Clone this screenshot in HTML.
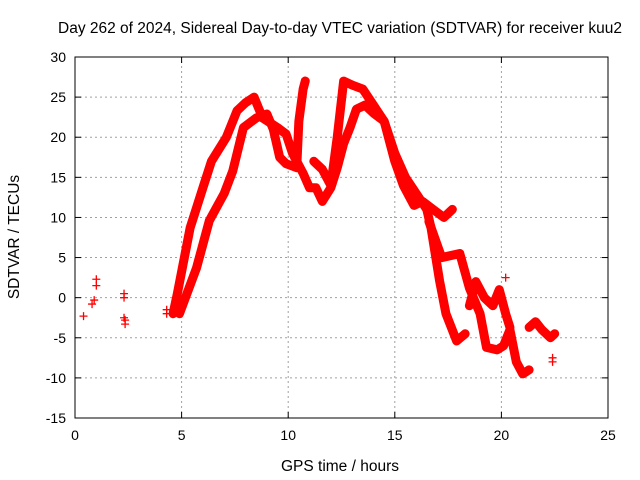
<!DOCTYPE html>
<html><head><meta charset="utf-8"><style>
html,body{margin:0;padding:0;background:#fff;}
svg{display:block;font-family:"Liberation Sans",sans-serif;}
</style></head><body>
<svg id="chart" width="640" height="480" xmlns="http://www.w3.org/2000/svg">
<text x="340" y="33" font-size="15.5" text-anchor="middle">Day 262 of 2024, Sidereal Day-to-day VTEC variation (SDTVAR) for receiver kuu2</text>
<text x="340" y="471" font-size="15.5" text-anchor="middle">GPS time / hours</text>
<text transform="translate(19,237) rotate(-90)" font-size="15.5" text-anchor="middle">SDTVAR / TECUs</text>
<g id="grid"></g><g id="marks"></g><g id="axes"></g>
</svg>
<script>
const xTicks=[0,5,10,15,20,25];
const yTicks=[-15,-10,-5,0,5,10,15,20,25,30];
const isoT=[0.4,0.8,0.9,1.0,1.0,2.3,2.3,2.3,2.35,2.35,4.3,4.3,20.2,22.4,22.4];
const isoV=[-2.3,-0.8,-0.3,1.5,2.3,0,0.5,-2.5,-3.3,-2.8,-2,-1.5,2.5,-7.5,-8];
const aT=[4.6,4.8,5.4,6.0,6.4,7.1,7.6,8.0,8.4,8.8,9.5,9.9,10.2,10.7,11.0,11.3,11.6,12.0,12.3,12.6,12.9,13.2,13.6,14.0,14.5,15.0,15.4,15.9,16.3,16.8,17.3,17.7];
const aV=[-2,0.5,8.7,13.7,17,20,23.3,24.3,25,22.4,21.2,20.4,18,15.5,13.7,13.7,12,13.7,16.2,19.2,21.2,23.5,24,23,22,17,14,11.5,12,11,10,11];
const bT=[4.9,5.7,6.3,7.0,7.4,7.9,8.5,9.0,9.3,9.6,9.9,10.4,10.5,10.7,10.8];
const bV=[-2,3.7,9.6,13,15.8,21.2,22.4,22.9,21,17.5,16.7,16.2,22,26,27];
const cT=[11.2,11.6,12.0,12.3,12.6,13.0,13.5,14.0,14.5,15.0,15.5,16.0,16.5,16.7,17.1,17.4,17.9,18.3];
const cV=[17,16,14,20,27,26.5,26,24,22,18,15,13,11,8.7,2.1,-2,-5.4,-4.5];
const dT=[16.6,17.2,18.05,18.5,19.0,19.3,19.8,20.1,20.4,20.7,21.0,21.3];
const dV=[9.5,5,5.5,1.2,-2,-6.2,-6.5,-6,-4,-8,-9.5,-9];
const eT=[18.5,18.8,19.2,19.6,19.9,20.2,20.4];
const eV=[-1,2,0,-1,1,-2,-3.7];
const fT=[21.3,21.6,21.9,22.3,22.5];
const fV=[-3.7,-3,-4,-5,-4.5];
const X0=75,X1=608,Y0=418,Y1=57;
const xs=v=>X0+(v-0)/(25-0)*(X1-X0);
const ys=v=>Y0-(v+15)/(45)*(Y0-Y1);
const NS="http://www.w3.org/2000/svg";
function mk(tag,attrs,parent){const e=document.createElementNS(NS,tag);for(const k in attrs)e.setAttribute(k,attrs[k]);parent.appendChild(e);return e;}
const grid=document.getElementById('grid'),axes=document.getElementById('axes'),marks=document.getElementById('marks');
xTicks.forEach(t=>{const x=xs(t);
 if(t>0&&t<25){const g=mk('line',{x1:x,x2:x,y1:Y0,y2:Y1,stroke:'#a0a0a0','stroke-dasharray':'2,3'},grid);
 
 }
 mk('line',{x1:x,x2:x,y1:Y0,y2:Y0-6,stroke:'#000'},axes);mk('line',{x1:x,x2:x,y1:Y1,y2:Y1+6,stroke:'#000'},axes);
 const l=mk('text',{x:x,y:Y0+22,'font-size':14,'text-anchor':'middle'},axes);l.textContent=t;
 
 });
yTicks.forEach(t=>{const y=ys(t);
 if(t>-15&&t<30){const g=mk('line',{x1:X0,x2:X1,y1:y,y2:y,stroke:'#a0a0a0','stroke-dasharray':'2,3'},grid);
 
 }
 mk('line',{x1:X0,x2:X0+6,y1:y,y2:y,stroke:'#000'},axes);mk('line',{x1:X1,x2:X1-6,y1:y,y2:y,stroke:'#000'},axes);
 const l=mk('text',{x:X0-9,y:y+5,'font-size':14,'text-anchor':'end'},axes);l.textContent=t;
 
 });
const fr=mk('rect',{x:X0,y:Y1,width:X1-X0,height:Y0-Y1,fill:'none',stroke:'#000'},axes);


function series(T,V,name,line){
 const g=mk('g',{},marks);
 
 
 if(line){mk('polyline',{points:T.map((t,i)=>xs(t)+','+ys(V[i])).join(' '),fill:'none',stroke:'#f00','stroke-width':9,'stroke-linejoin':'round','stroke-linecap':'round'},g);}
 T.forEach((t,i)=>{const x=xs(t),y=ys(V[i]);
  const p=mk('path',{d:`M${x-4},${y}H${x+4}M${x},${y-4}V${y+4}`,stroke:'#f00','stroke-width':1.3},g);
  
  });
}
series(isoT,isoV,'isolated-points',false);
series(aT,aV,'band-outer',true);
series(bT,bV,'band-inner',true);
series(cT,cV,'band-afternoon',true);
series(dT,dV,'band-evening',true);
series(eT,eV,'band-evening-cluster',true);
series(fT,fV,'band-late',true);
</script>
</body></html>
